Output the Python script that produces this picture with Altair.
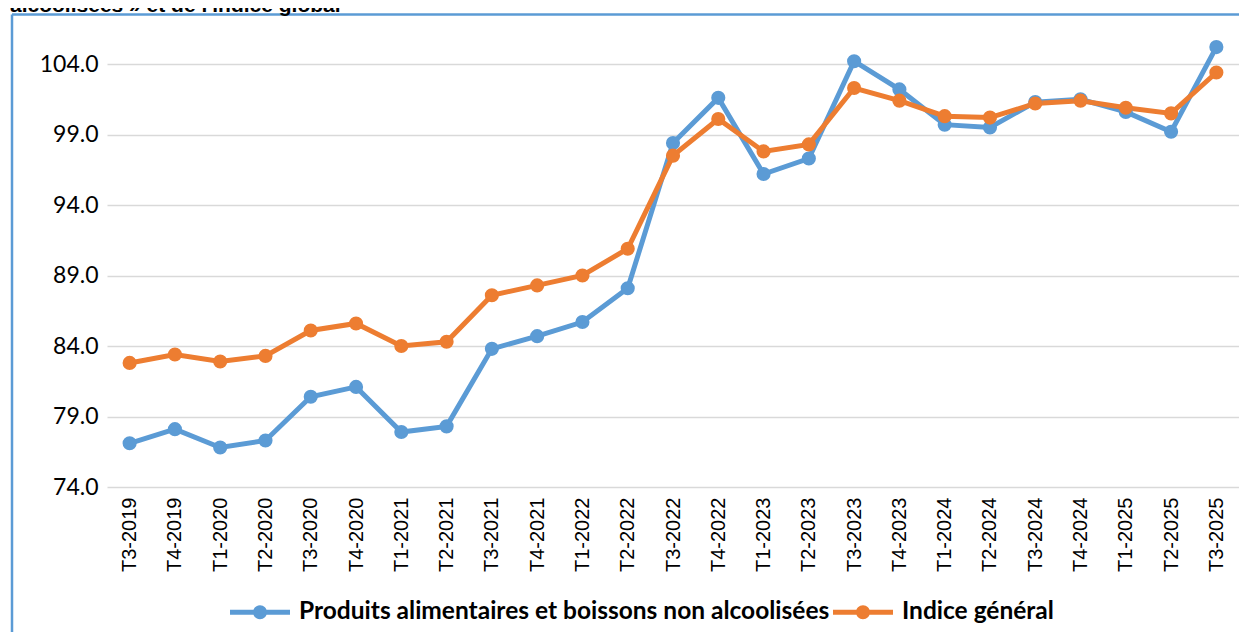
import altair as alt
import pandas as pd

quarters = [
    "T3-2019", "T4-2019", "T1-2020", "T2-2020", "T3-2020", "T4-2020",
    "T1-2021", "T2-2021", "T3-2021", "T4-2021", "T1-2022", "T2-2022",
    "T3-2022", "T4-2022", "T1-2023", "T2-2023", "T3-2023", "T4-2023",
    "T1-2024", "T2-2024", "T3-2024", "T4-2024", "T1-2025", "T2-2025",
    "T3-2025",
]
food = [77.1, 78.1, 76.8, 77.3, 80.4, 81.1, 77.9, 78.3, 83.8, 84.7, 85.7, 88.1,
        98.4, 101.6, 96.2, 97.3, 104.2, 102.2, 99.7, 99.5, 101.3, 101.5, 100.6,
        99.2, 105.2]
general = [82.8, 83.4, 82.9, 83.3, 85.1, 85.6, 84.0, 84.3, 87.6, 88.3, 89.0, 90.9,
           97.5, 100.1, 97.8, 98.3, 102.3, 101.4, 100.3, 100.2, 101.2, 101.4, 100.9,
           100.5, 103.4]
series_names = ["Produits alimentaires et boissons non alcoolisées", "Indice général"]
colors = ["#5B9BD5", "#ED7D31"]
y_ticks = [74, 79, 84, 89, 94, 99, 104]
title_text = "alcoolisées » et de l'indice global"

df = pd.DataFrame({
    "quarter": quarters * 2,
    "value": food + general,
    "series": [series_names[0]] * len(quarters) + [series_names[1]] * len(quarters),
})

x_enc = alt.X(
    "quarter:N", sort=quarters,
    scale=alt.Scale(type="point", padding=0.5),
    axis=alt.Axis(title=None, labelAngle=-90, labelFont="Liberation Sans",
                  labelFontSize=20, labelColor="#000000", labelPadding=10,
                  ticks=False, domain=False, grid=False),
)
y_enc = alt.Y(
    "value:Q",
    scale=alt.Scale(domain=[74, 106.91], nice=False, zero=False),
    axis=alt.Axis(title=None, values=y_ticks, format=".1f", labelFont="Lato",
                  labelFontSize=23, labelColor="#000000", labelPadding=9,
                  ticks=False, domain=False, grid=True, gridColor="#d9d9d9",
                  gridWidth=1.5),
)

legend_path = ("M-1,-0.083H1V0.083H-1Z "
               "M0.233,0A0.233,0.233,0,1,1,-0.233,0A0.233,0.233,0,1,1,0.233,0Z")

legend = alt.Legend(
    title=None, orient="none", legendX=123, legendY=559,
    direction="horizontal", symbolType=legend_path, symbolSize=3600,
    symbolStrokeWidth=0, symbolOpacity=1, labelFont="Lato",
    labelFontWeight="bold", labelFontSize=24.5, labelColor="#000000",
    labelOffset=9, columnPadding=3, labelLimit=0, padding=0,
)
color_enc = alt.Color("series:N", scale=alt.Scale(domain=series_names, range=colors),
                      legend=legend)

lines = alt.Chart(df).mark_line(strokeWidth=5).encode(
    x=x_enc, y=y_enc, color=color_enc,
)
points = alt.Chart(df).mark_point(filled=True, size=200, opacity=1).encode(
    x=x_enc, y=y_enc, color=color_enc,
)

frame_left = alt.Chart(pd.DataFrame({"k": [0]})).mark_rule(
    color="#5B9BD5", strokeWidth=2.5
).encode(x=alt.value(-95), y=alt.value(-8.5), y2=alt.value(700))
frame_top = alt.Chart(pd.DataFrame({"k": [0]})).mark_rule(
    color="#5B9BD5", strokeWidth=2.5
).encode(x=alt.value(-95), x2=alt.value(1200), y=alt.value(-8.5))

title = alt.Chart(pd.DataFrame({"t": [title_text]})).mark_text(
    align="left", baseline="alphabetic", font="Liberation Sans", fontSize=21,
    fontWeight="bold", color="#000000"
).encode(text="t:N", x=alt.value(-97), y=alt.value(-11.5))

chart = alt.layer(frame_left, frame_top, title, lines, points).properties(
    width=1132, height=464,
    padding={"left": 99, "top": 15, "right": 0, "bottom": 145},
    autosize=alt.AutoSizeParams(type="none"),
    background="white",
).configure_view(stroke=None)

chart.save("out.html", embed_options={"renderer": "svg", "actions": False})
